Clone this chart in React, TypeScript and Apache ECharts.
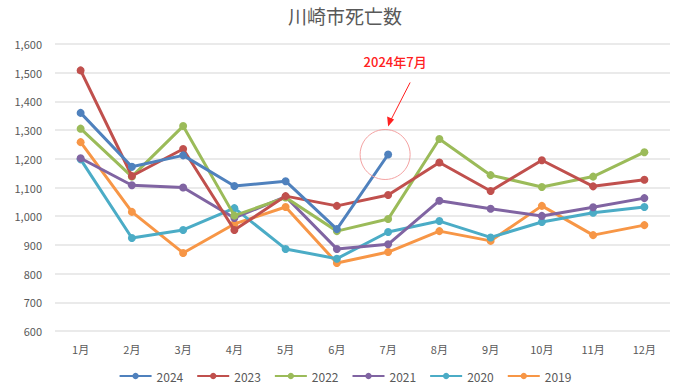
import React, { useEffect, useRef } from "react";
import * as echarts from "echarts";

const months = ["1月", "2月", "3月", "4月", "5月", "6月", "7月", "8月", "9月", "10月", "11月", "12月"];
const yearNames = ["2024", "2023", "2022", "2021", "2020", "2019"];
const colors = ["#4F81BD", "#C0504D", "#9BBB59", "#8064A2", "#4BACC6", "#F79646"];
const d2024 = [1360, 1172, 1212, 1105, 1122, 955, 1215];
const d2023 = [1508, 1140, 1234, 952, 1070, 1036, 1074, 1187, 1088, 1195, 1104, 1127];
const d2022 = [1305, 1138, 1314, 1002, 1065, 948, 990, 1269, 1143, 1102, 1138, 1223];
const d2021 = [1202, 1108, 1100, 994, 1068, 886, 902, 1054, 1026, 1001, 1031, 1063];
const d2020 = [1198, 924, 952, 1028, 886, 852, 945, 983, 926, 980, 1012, 1032];
const d2019 = [1258, 1015, 872, 973, 1032, 837, 875, 948, 914, 1036, 934, 969];
const seriesData = [d2024, d2023, d2022, d2021, d2020, d2019];
const annotationText = "2024年7月";
const annotationPoint = { month: "7月", value: 1215 };

const FONT = "'Noto Sans CJK JP', 'Noto Sans', sans-serif";

export default function App() {
  const ref = useRef<HTMLDivElement>(null);
  useEffect(() => {
    if (!ref.current) return;
    const chart = echarts.init(ref.current, undefined, { renderer: "svg" });
    chart.setOption({
      animation: false,
      backgroundColor: "#ffffff",
      title: {
        text: "川崎市死亡数",
        left: "center",
        top: 4,
        padding: 0,
        textStyle: { fontFamily: FONT, fontSize: 19, fontWeight: "normal", color: "#595959", lineHeight: 22 },
      },
      grid: { left: 55, right: 20, top: 44, bottom: 57 },
      xAxis: {
        type: "category",
        data: months,
        boundaryGap: true,
        axisLine: { show: false },
        axisTick: { show: false },
        axisLabel: { fontFamily: FONT, fontSize: 11, color: "#595959", margin: 12 },
      },
      yAxis: {
        type: "value",
        min: 600,
        max: 1600,
        interval: 100,
        axisLabel: {
          fontFamily: FONT,
          fontSize: 11,
          color: "#595959",
          margin: 13,
          formatter: (v: number) => v.toLocaleString("en-US"),
        },
        splitLine: { lineStyle: { color: "#e3e3e3", width: 1.5 } },
      },
      legend: {
        bottom: 1,
        left: "center",
        itemWidth: 32,
        itemHeight: 8,
        itemGap: 13,
        textStyle: { fontFamily: FONT, fontSize: 12, color: "#595959" },
        data: yearNames,
      },
      series: yearNames.map((name, i) => ({
        name,
        type: "line",
        data: seriesData[i],
        color: colors[i],
        symbol: "circle",
        symbolSize: 8,
        lineStyle: { width: 3, color: colors[i] },
        itemStyle: { color: colors[i] },
        z: 10 - i,
      })),
    });
    const [px, py] = chart.convertToPixel({ gridIndex: 0 }, [annotationPoint.month, annotationPoint.value]) as number[];
    chart.setOption({
      graphic: [
        {
          type: "circle",
          shape: { cx: px - 3, cy: py, r: 25 },
          style: { fill: "none", stroke: "#f4a3a3", lineWidth: 1 },
          z: 100,
        },
        {
          type: "line",
          shape: { x1: px + 22, y1: py - 72, x2: px + 2, y2: py - 33 },
          style: { stroke: "#ff2020", lineWidth: 1 },
          z: 100,
        },
        {
          type: "polygon",
          shape: { points: [[px, py - 28], [px - 1, py - 38], [px + 6, py - 35]] },
          style: { fill: "#ff2020" },
          z: 100,
        },
        {
          type: "text",
          style: {
            text: annotationText,
            x: px + 7,
            y: py - 93,
            align: "center",
            verticalAlign: "middle",
            fill: "#ff2020",
            font: `500 13px ${FONT}`,
          },
          z: 100,
        },
      ],
    });
    return () => chart.dispose();
  }, []);
  return <div ref={ref} style={{ position: "fixed", left: 0, top: 0, width: 690, height: 388 }} />;
}
